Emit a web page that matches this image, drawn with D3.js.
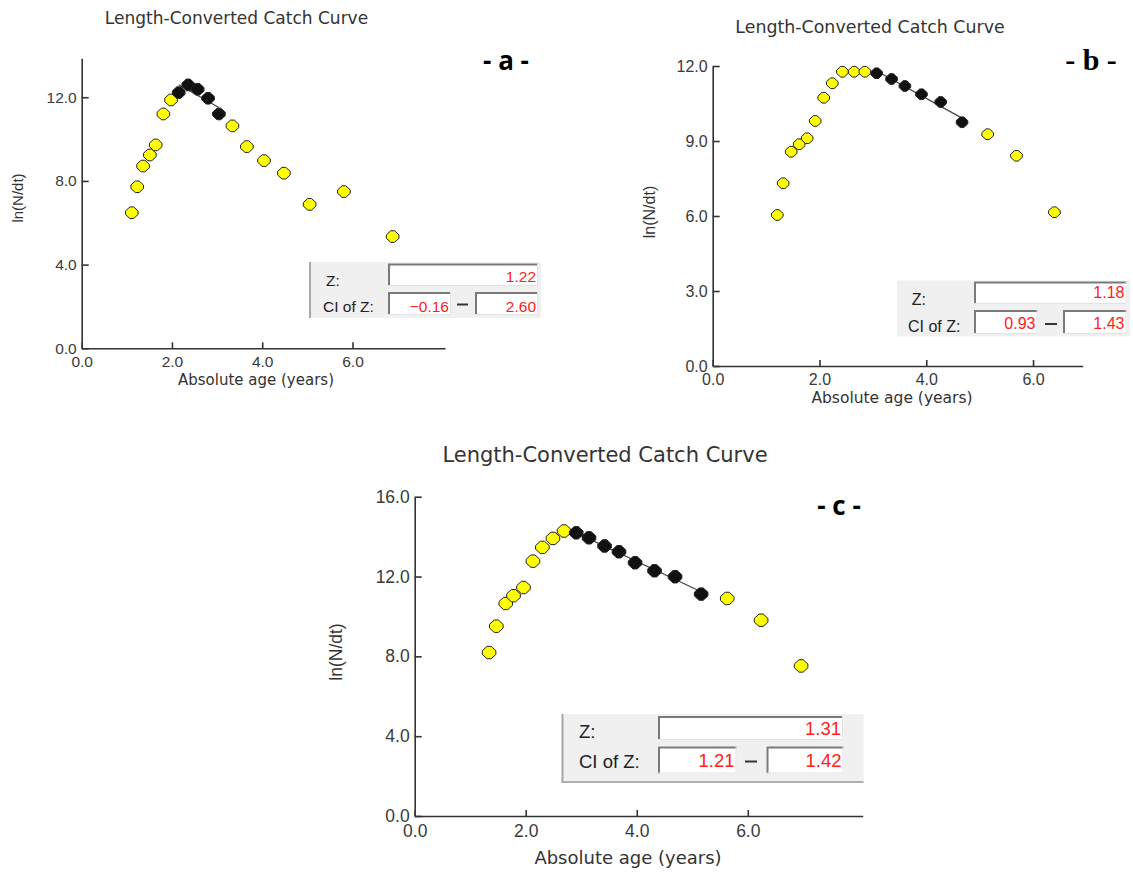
<!DOCTYPE html>
<html>
<head>
<meta charset="utf-8">
<script src="https://cdn.jsdelivr.net/npm/d3@7"></script>
<style>
  body { margin: 0; background: #fff; }
</style>
</head>
<body>
<div id="chart"></div>
<script>
// ---- data ----
var titleText = "Length-Converted Catch Curve";
var xLabelText = "Absolute age (years)";
var yLabelText = "ln(N/dt)";
var panelNames = ["- a -", "- b -", "- c -"];

// panel a
var ageA = [1.11, 1.23, 1.36, 1.51, 1.64, 1.81, 1.98, 2.15, 2.36, 2.57, 2.80, 3.04, 3.34, 3.66, 4.04, 4.48, 5.05, 5.81, 6.89];
var lnA  = [6.48, 7.72, 8.71, 9.24, 9.72, 11.2, 11.87, 12.22, 12.59, 12.38, 11.95, 11.2, 10.63, 9.64, 8.97, 8.37, 6.88, 7.49, 5.34];
var usedA = [0, 0, 0, 0, 0, 0, 0, 1, 1, 1, 1, 1, 0, 0, 0, 0, 0, 0, 0];
var zA = 1.22, ciA = [-0.16, 2.60];
var xTicksA = [0, 2, 4, 6], yTicksA = [0, 4, 8, 12];

// panel b
var ageB = [1.21, 1.32, 1.47, 1.62, 1.77, 1.92, 2.08, 2.24, 2.43, 2.65, 2.85, 3.07, 3.35, 3.60, 3.91, 4.27, 4.67, 5.15, 5.69, 6.40];
var lnB  = [6.04, 7.31, 8.57, 8.87, 9.11, 9.80, 10.73, 11.31, 11.77, 11.77, 11.77, 11.71, 11.48, 11.20, 10.87, 10.56, 9.75, 9.27, 8.41, 6.15];
var usedB = [0, 0, 0, 0, 0, 0, 0, 0, 0, 0, 0, 1, 1, 1, 1, 1, 1, 0, 0, 0];
var zB = 1.18, ciB = [0.93, 1.43];
var xTicksB = [0, 2, 4, 6], yTicksB = [0, 3, 6, 9, 12];

// panel c
var ageC = [1.34, 1.47, 1.64, 1.78, 1.96, 2.13, 2.30, 2.49, 2.69, 2.91, 3.14, 3.42, 3.68, 3.97, 4.32, 4.69, 5.16, 5.63, 6.24, 6.96];
var lnC  = [8.19, 9.51, 10.65, 11.04, 11.45, 12.77, 13.46, 13.91, 14.28, 14.19, 13.94, 13.53, 13.24, 12.69, 12.29, 11.99, 11.12, 10.90, 9.81, 7.52];
var usedC = [0, 0, 0, 0, 0, 0, 0, 0, 0, 1, 1, 1, 1, 1, 1, 1, 1, 0, 0, 0];
var zC = 1.31, ciC = [1.21, 1.42];
var xTicksC = [0, 2, 4, 6], yTicksC = [0, 4, 8, 12, 16];

var svg = d3.select("#chart").append("svg")
    .attr("width", 1133)
    .attr("height", 872)
    .style("display", "block");

var f1 = d3.format(".1f"), f2 = d3.format(".2f");

function markerPath(w, h) {
  var f = w * 0.3, g = h * 0.3;
  return "M" + (-w) + "," + (-g) + "L" + (-f) + "," + (-h) + "L" + f + "," + (-h) +
         "L" + w + "," + (-g) + "L" + w + "," + g + "L" + f + "," + h +
         "L" + (-f) + "," + h + "L" + (-w) + "," + g + "Z";
}

function sunkenBox(g, b) {
  g.append("rect").attr("x", b.x).attr("y", b.y).attr("width", b.w).attr("height", b.h).attr("fill", "#fff");
  g.append("path")
    .attr("d", "M" + (b.x + 1) + "," + (b.y + b.h) + "V" + (b.y + 1) + "H" + (b.x + b.w))
    .attr("fill", "none").attr("stroke", "#7a7a7a").attr("stroke-width", 2);
  g.append("path")
    .attr("d", "M" + (b.x + b.w - 0.5) + "," + b.y + "V" + (b.y + b.h - 0.5) + "H" + b.x)
    .attr("fill", "none").attr("stroke", "#e2e2e2").attr("stroke-width", 1);
}

function drawPanel(p) {
  var x = d3.scaleLinear().domain(p.xDomain).range([p.left, p.right]);
  var y = d3.scaleLinear().domain(p.yDomain).range([p.bottom, p.top]);
  var g = svg.append("g");

  // title
  g.append("text")
    .attr("x", p.titleX).attr("y", p.titleY)
    .attr("text-anchor", "middle")
    .style("font-family", "DejaVu Sans").style("font-size", p.titleSize + "px")
    .attr("fill", "#333")
    .text(titleText);

  // panel letter
  g.append("text")
    .attr("x", p.tagX).attr("y", p.tagY)
    .attr("text-anchor", "middle")
    .style("font-family", p.tagFont).style("font-weight", "bold").style("font-size", p.tagSize + "px")
    .attr("fill", "#000")
    .text(p.tag);

  // axes
  var xa = g.append("g")
    .attr("transform", "translate(0," + p.bottom + ")")
    .call(d3.axisBottom(x).tickValues(p.xTicks).tickFormat(f1).tickSizeInner(-6).tickSizeOuter(0).tickPadding(p.xPad));
  var ya = g.append("g")
    .attr("transform", "translate(" + p.left + ",0)")
    .call(d3.axisLeft(y).tickValues(p.yTicks).tickFormat(f1).tickSizeInner(-7).tickSizeOuter(0).tickPadding(5));
  [xa, ya].forEach(function(a) {
    a.attr("font-family", "Liberation Sans").attr("font-size", p.tickSize);
    a.select(".domain").attr("stroke", "#333").attr("stroke-width", 1.6);
    a.selectAll(".tick line").attr("stroke", "#333").attr("stroke-width", 1.6);
    a.selectAll(".tick text").attr("fill", "#3a3a3a");
  });

  // axis labels
  g.append("text")
    .attr("x", p.xLabelX).attr("y", p.xLabelY)
    .attr("text-anchor", "middle")
    .style("font-family", "DejaVu Sans").style("font-size", p.xLabelSize + "px")
    .attr("fill", "#333")
    .text(xLabelText);
  g.append("text")
    .attr("transform", "translate(" + p.yLabelX + "," + p.yLabelY + ") rotate(-90)")
    .attr("text-anchor", "middle")
    .attr("dy", "0.35em")
    .style("font-family", "Liberation Sans").style("font-size", p.yLabelSize + "px")
    .attr("fill", "#333")
    .text(yLabelText);

  // regression over the filled points, slope = -Z
  var pts = p.age.map(function(a, i) { return {age: a, ln: p.ln[i], used: p.used[i]}; });
  var used = pts.filter(function(d) { return d.used; });
  var mx = d3.mean(used, function(d) { return d.age; });
  var my = d3.mean(used, function(d) { return d.ln; });
  var x0 = d3.min(used, function(d) { return d.age; }), x1 = d3.max(used, function(d) { return d.age; });
  g.append("line")
    .attr("x1", x(x0)).attr("y1", y(my - p.z * (x0 - mx)))
    .attr("x2", x(x1)).attr("y2", y(my - p.z * (x1 - mx)))
    .attr("stroke", "#444").attr("stroke-width", 1.2);

  g.selectAll("marks")
    .data(pts)
    .enter()
    .append("path")
    .attr("transform", function(d) { return "translate(" + x(d.age) + "," + y(d.ln) + ")"; })
    .attr("d", markerPath(p.mw, p.mh))
    .attr("fill", function(d) { return d.used ? "#111" : "#ffff00"; })
    .attr("stroke", "#222")
    .attr("stroke-width", 1);

  // Z panel
  var b = p.box;
  var bg = g.append("g");
  bg.append("rect").attr("x", b.x).attr("y", b.y).attr("width", b.w).attr("height", b.h).attr("fill", "#f0f0f0");
  if (b.edge) {
    bg.append("line").attr("x1", b.x + 1).attr("x2", b.x + 1).attr("y1", b.y).attr("y2", b.y + b.h)
      .attr("stroke", "#a8a8a8").attr("stroke-width", 2);
  }
  if (b.bottomEdge) {
    bg.append("line").attr("x1", b.x).attr("x2", b.x + b.w).attr("y1", b.y + b.h - 1).attr("y2", b.y + b.h - 1)
      .attr("stroke", "#b0b0b0").attr("stroke-width", 2);
  }
  sunkenBox(bg, b.zBox);
  sunkenBox(bg, b.ci1);
  sunkenBox(bg, b.ci2);
  bg.append("line")
    .attr("x1", b.dash[0]).attr("x2", b.dash[1]).attr("y1", b.dash[2]).attr("y2", b.dash[2])
    .attr("stroke", "#333").attr("stroke-width", 2);

  var tf = function(sel) {
    return sel.style("font-family", "Liberation Sans").style("font-size", b.fs + "px");
  };
  tf(bg.append("text")).attr("x", b.zLabel[0]).attr("y", b.zLabel[1]).attr("fill", "#222").text("Z:");
  tf(bg.append("text")).attr("x", b.ciLabel[0]).attr("y", b.ciLabel[1]).attr("fill", "#222").text("CI of Z:");
  tf(bg.append("text")).attr("x", b.zBox.x + b.zBox.w - 2).attr("y", b.zBase)
    .attr("text-anchor", "end").attr("fill", "#ff2020").text(f2(p.z));
  tf(bg.append("text")).attr("x", b.ci1.x + b.ci1.w - 2).attr("y", b.ciBase)
    .attr("text-anchor", "end").attr("fill", "#ff2020").text(f2(p.ci[0]));
  tf(bg.append("text")).attr("x", b.ci2.x + b.ci2.w - 2).attr("y", b.ciBase)
    .attr("text-anchor", "end").attr("fill", "#ff2020").text(f2(p.ci[1]));
}

drawPanel({
  age: ageA, ln: lnA, used: usedA, z: zA, ci: ciA, xTicks: xTicksA, yTicks: yTicksA,
  xDomain: [0, 8.05], yDomain: [0, 13.86], left: 81.7, right: 445, bottom: 348.3, top: 58.3,
  titleX: 236.5, titleY: 24, titleSize: 17,
  tag: panelNames[0], tagX: 506, tagY: 70, tagSize: 26, tagFont: "Open Sans",
  tickSize: 15.5, xPad: 8,
  xLabelX: 256, xLabelY: 385, xLabelSize: 15,
  yLabelX: 18, yLabelY: 198, yLabelSize: 15,
  mw: 6.3, mh: 5.8,
  box: {x: 309, y: 262, w: 232, h: 56, edge: true, fs: 15.5,
        zBox: {x: 388, y: 263.5, w: 150, h: 22.5},
        ci1: {x: 388, y: 292, w: 63, h: 23},
        ci2: {x: 475, y: 292, w: 63, h: 23},
        dash: [457, 468, 304.5],
        zLabel: [326, 286], ciLabel: [323, 312], zBase: 281.7, ciBase: 311.7}
});

drawPanel({
  age: ageB, ln: lnB, used: usedB, z: zB, ci: ciB, xTicks: xTicksB, yTicks: yTicksB,
  xDomain: [0, 6.93], yDomain: [0, 12], left: 712.7, right: 1082.7, bottom: 366, top: 66,
  titleX: 870, titleY: 33, titleSize: 17.4,
  tag: panelNames[1], tagX: 1091, tagY: 70, tagSize: 30, tagFont: "Liberation Serif",
  tickSize: 16, xPad: 8,
  xLabelX: 892, xLabelY: 403, xLabelSize: 15.5,
  yLabelX: 649, yLabelY: 212, yLabelSize: 16,
  mw: 5.8, mh: 5.3,
  box: {x: 897, y: 280.5, w: 233, h: 56, edge: false, fs: 16,
        zBox: {x: 974, y: 281.5, w: 152.5, h: 22.5},
        ci1: {x: 974, y: 310, w: 63.5, h: 24},
        ci2: {x: 1063, y: 310, w: 63.5, h: 24},
        dash: [1045, 1057, 324],
        zLabel: [911.7, 305], ciLabel: [908, 331.5], zBase: 298.3, ciBase: 329.3}
});

drawPanel({
  age: ageC, ln: lnC, used: usedC, z: zC, ci: ciC, xTicks: xTicksC, yTicks: yTicksC,
  xDomain: [0, 8.07], yDomain: [0, 16], left: 414.7, right: 862.7, bottom: 816, top: 496.7,
  titleX: 605, titleY: 461.7, titleSize: 21,
  tag: panelNames[2], tagX: 839, tagY: 515, tagSize: 26, tagFont: "Open Sans",
  tickSize: 17.5, xPad: 9,
  xLabelX: 628, xLabelY: 864, xLabelSize: 18,
  yLabelX: 336, yLabelY: 652, yLabelSize: 17.5,
  mw: 6.8, mh: 6.2,
  box: {x: 561.5, y: 714, w: 302, h: 69, edge: true, bottomEdge: true, fs: 18.5,
        zBox: {x: 658, y: 716, w: 185, h: 24},
        ci1: {x: 658, y: 746.5, w: 78.5, h: 27},
        ci2: {x: 766.5, y: 746.5, w: 77, h: 27},
        dash: [745, 757, 761.5],
        zLabel: [579, 738], ciLabel: [579, 768], zBase: 735, ciBase: 766.7}
});
</script>
</body>
</html>
